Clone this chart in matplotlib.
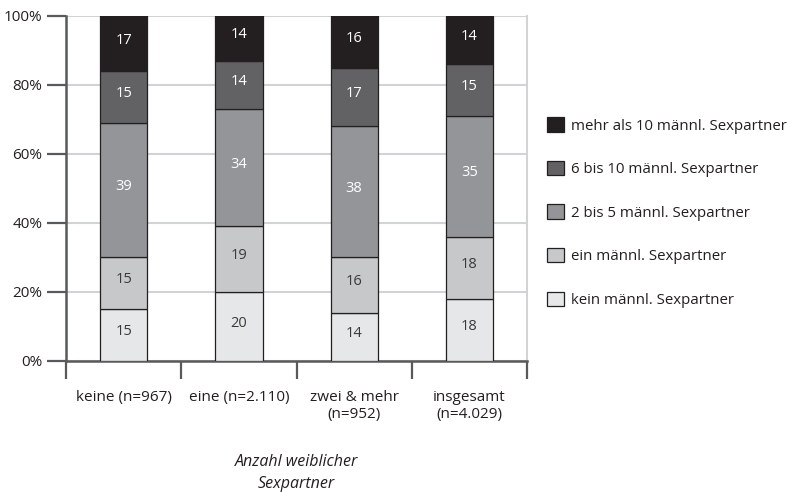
import matplotlib
matplotlib.use("Agg")
import matplotlib.pyplot as plt
import numpy as np

plt.rcParams['font.family'] = ['Open Sans', 'DejaVu Sans']

categories = ["keine (n=967)", "eine (n=2.110)", "zwei & mehr\n(n=952)", "insgesamt\n(n=4.029)"]
series_names = [
    "kein männl. Sexpartner",
    "ein männl. Sexpartner",
    "2 bis 5 männl. Sexpartner",
    "6 bis 10 männl. Sexpartner",
    "mehr als 10 männl. Sexpartner",
]
kein = [15, 20, 14, 18]
ein = [15, 19, 16, 18]
zwei_bis_fuenf = [39, 34, 38, 35]
sechs_bis_zehn = [15, 14, 17, 15]
mehr_als_zehn = [17, 14, 16, 14]
y_ticks = [0, 20, 40, 60, 80, 100]
y_tick_labels = ["0%", "20%", "40%", "60%", "80%", "100%"]

series = [kein, ein, zwei_bis_fuenf, sechs_bis_zehn, mehr_als_zehn]
colors = ["#e6e7e8", "#c7c8ca", "#939598", "#626264", "#231f20"]
text_colors = ["#3a3a3a", "#3a3a3a", "white", "white", "white"]

fig = plt.figure(figsize=(7.89, 4.92), dpi=100)
ax = fig.add_axes([0.0837, 0.2663, 0.5843, 0.7012])

x = np.arange(len(categories))
bottom = np.zeros(len(categories))
handles = []
for vals, col, tcol, name in zip(series, colors, text_colors, series_names):
    vals = np.array(vals, dtype=float)
    bars = ax.bar(x, vals, bottom=bottom, width=0.41, color=col,
                  edgecolor="#231f20", linewidth=0.9, zorder=3, label=name)
    handles.append(bars)
    for xi, b, v in zip(x, bottom, vals):
        top = min(b + v, 100)
        ax.text(xi, (b + top) / 2 + 1, f"{int(v)}", ha="center", va="center",
                color=tcol, fontsize=10.5, zorder=4)
    bottom += vals

ax.set_xlim(-0.5, len(categories) - 0.5)
ax.set_ylim(0, 100)
ax.set_yticks(y_ticks)
ax.set_yticklabels(y_tick_labels, fontsize=11, color="#231f20")
ax.yaxis.grid(True, color="#d1d3d4", linewidth=1.5, zorder=0)
ax.set_axisbelow(True)

ax.set_xticks(x)
ax.set_xticklabels(categories, fontsize=11, color="#231f20", linespacing=1.2)
ax.set_xticks(np.arange(len(categories) + 1) - 0.5, minor=True)
ax.tick_params(axis="x", which="major", length=0, pad=21)
ax.tick_params(axis="x", which="minor", length=13, width=1.6, color="#58595b")
ax.tick_params(axis="y", length=14, width=1.6, color="#58595b", pad=3)

for side in ["left", "bottom"]:
    ax.spines[side].set_color("#58595b")
    ax.spines[side].set_linewidth(1.8)
ax.spines["right"].set_color("#d1d3d4")
ax.spines["right"].set_linewidth(1.5)
ax.spines["top"].set_visible(False)

ax.set_xlabel("Anzahl weiblicher\nSexpartner", fontsize=11.5, style="italic",
              color="#231f20", labelpad=23, linespacing=1.5)

leg = ax.legend(handles=handles[::-1], labels=series_names[::-1],
                loc="center left", bbox_to_anchor=(1.015, 0.43), frameon=False,
                fontsize=10.8, handlelength=1.1, handleheight=1.1,
                handletextpad=0.45, labelspacing=1.82)
for t in leg.get_texts():
    t.set_color("#231f20")

fig.savefig("out.png", dpi=100)
